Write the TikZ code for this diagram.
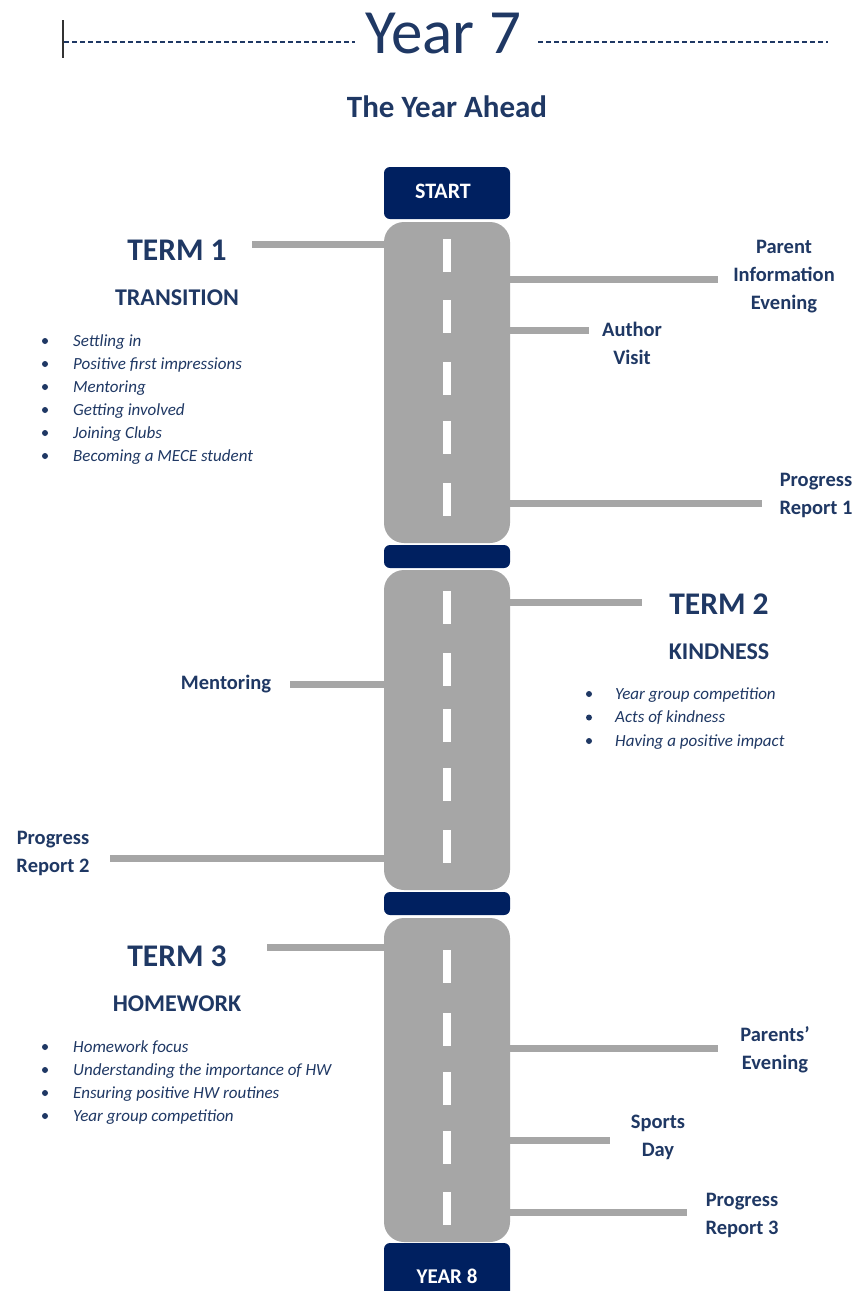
\documentclass[tikz,border=0pt]{standalone}
\usepackage{fontspec}
\setmainfont{Carlito}
\definecolor{navy}{HTML}{002060}
\definecolor{txt}{HTML}{1F3864}
\definecolor{roadgrey}{HTML}{A6A6A6}
\begin{document}
\begin{tikzpicture}[x=1pt,y=-1pt,
  road/.style={fill=roadgrey, rounded corners=20pt, minimum width=126pt, inner sep=0pt},
  bar/.style={fill=navy, rounded corners=6pt, minimum width=126pt, inner sep=0pt},
  bartext/.style={text=white, font=\bfseries\fontsize{22}{22}\selectfont, inner sep=0pt, anchor=base},
  conn/.style={draw=roadgrey, line width=7pt},
  lbl/.style={text=txt, font=\bfseries\fontsize{20.5}{28}\selectfont, align=center, inner sep=0pt},
  term/.style={text=txt, font=\bfseries\fontsize{31.5}{31.5}\selectfont, inner sep=0pt, anchor=base},
  theme/.style={text=txt, font=\bfseries\fontsize{24}{24}\selectfont, inner sep=0pt, anchor=base},
  item/.style={text=txt, font=\itshape\fontsize{17}{17}\selectfont, anchor=base west, inner sep=0pt},
  dot/.style={circle, fill=txt, minimum size=6pt, inner sep=0pt},
  lane/.style={fill=white, minimum width=8pt, minimum height=33pt, inner sep=0pt},
  titledash/.style={draw=txt, line width=2.5pt, dash pattern=on 5pt off 3pt}
]
\clip (0,0) rectangle (853,1291);
\fill[white] (0,0) rectangle (853,1291);

% title
\node[text=txt, font=\fontsize{63}{63}\selectfont, inner sep=0pt, anchor=base] (title) at (443,53) {Year 7};
\coordinate (dl1) at (64,42);
\coordinate (dl2) at (355,42);
\coordinate (dr1) at (538,42);
\coordinate (dr2) at (828,42);
\draw[titledash] (dl1) -- (dl2);
\draw[titledash] (dr1) -- (dr2);
\coordinate (cur1) at (63,20);
\coordinate (cur2) at (63,58);
\draw[black!80, line width=1.8pt] (cur1) -- (cur2);
\node[text=txt, font=\bfseries\fontsize{31}{31}\selectfont, inner sep=0pt, anchor=base] (sub) at (447,117) {The Year Ahead};

% road
\node[road, minimum height=321pt] (road1) at (447,382.5) {};
\node[road, minimum height=320pt] (road2) at (447,730) {};
\node[road, minimum height=324pt] (road3) at (447,1080) {};
\node[bar, minimum height=52pt] (start) at (447,193) {};
\node[bar, minimum height=23pt] (bar1) at (447,556.5) {};
\node[bar, minimum height=23pt] (bar2) at (447,903.5) {};
\node[bar, minimum height=60pt] (end) at (447,1273) {};
\node[bartext] (startt) at (443,198) {START};
\node[bartext, font=\bfseries\fontsize{21}{21}\selectfont] (endt) at (447,1283) {YEAR 8};

\foreach \y [count=\i] in {255,316.5,378.5,437.5,499.5,607,669,725.5,784.5,846,966.5,1029,1088,1147,1208.5}
  \node[lane] (lane\i) at (447,\y) {};

% term 1
\node[term] (term1) at (177,260) {TERM 1};
\node[theme] (trans) at (177,305) {TRANSITION};
\foreach \t [count=\i] in {Settling in, Positive first impressions, Mentoring, Getting involved, Joining Clubs, Becoming a MECE student} {
  \node[dot] (ta\i) at (45,{341+23*(\i-1)}) {};
  \node[item] (tb\i) at (73,{346+23*(\i-1)}) {\t};
}
\coordinate (c1) at (252,244);
\draw[conn] (c1) -- (c1 -| road1.west);

\node[lbl] (pie) at (784,277) {Parent\\Information\\Evening};
\coordinate (c2) at (718,279);
\draw[conn] (road1.east |- c2) -- (c2);
\node[lbl] (av) at (632,343) {Author\\Visit};
\coordinate (c3) at (589,330);
\draw[conn] (road1.east |- c3) -- (c3);
\node[lbl] (pr1) at (816,495) {Progress\\Report 1};
\coordinate (c4) at (762,503);
\draw[conn] (road1.east |- c4) -- (c4);

% term 2
\node[term] (term2) at (719,614) {TERM 2};
\node[theme] (kind) at (719,659) {KINDNESS};
\foreach \t [count=\i] in {Year group competition, Acts of kindness, Having a positive impact} {
  \node[dot] (ka\i) at (589,{694+23.5*(\i-1)}) {};
  \node[item] (kb\i) at (615,{699+23.5*(\i-1)}) {\t};
}
\coordinate (c5) at (642,602);
\draw[conn] (road2.east |- c5) -- (c5);
\node[lbl, anchor=base] (ment) at (226,689) {Mentoring};
\coordinate (c6) at (290,684);
\draw[conn] (c6) -- (c6 -| road2.west);
\node[lbl] (pr2) at (53,853) {Progress\\Report 2};
\coordinate (c7) at (110,858);
\draw[conn] (c7) -- (c7 -| road2.west);

% term 3
\node[term] (term3) at (177,966) {TERM 3};
\node[theme] (hw) at (177,1011) {HOMEWORK};
\foreach \t [count=\i] in {Homework focus, Understanding the importance of HW, Ensuring positive HW routines, Year group competition} {
  \node[dot] (ha\i) at (45,{1047+23*(\i-1)}) {};
  \node[item] (hb\i) at (73,{1052+23*(\i-1)}) {\t};
}
\coordinate (c8) at (267,947);
\draw[conn] (c8) -- (c8 -| road3.west);
\node[lbl] (pe) at (775,1050) {Parents'\\Evening};
\coordinate (c9) at (718,1048);
\draw[conn] (road3.east |- c9) -- (c9);
\node[lbl] (sd) at (658,1137) {Sports\\Day};
\coordinate (c10) at (610,1140);
\draw[conn] (road3.east |- c10) -- (c10);
\node[lbl] (pr3) at (742,1215) {Progress\\Report 3};
\coordinate (c11) at (687,1212);
\draw[conn] (road3.east |- c11) -- (c11);
\end{tikzpicture}
\end{document}
